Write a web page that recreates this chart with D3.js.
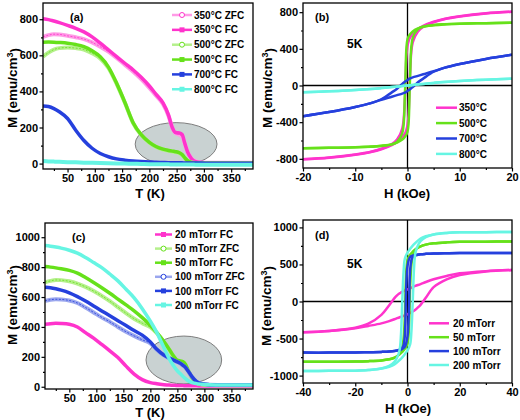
<!DOCTYPE html>
<html><head><meta charset="utf-8">
<script src="https://cdn.jsdelivr.net/npm/d3@7"></script>
<style>
body{margin:0;background:#fff;}
svg text{font-family:"Liberation Sans",Arial,sans-serif;font-weight:bold;fill:#000;}
</style></head><body>
<svg id="chart" width="520" height="420"></svg>
<script>
// ---------- data ----------
const tempGrid = [5, 15, 25, 35, 50, 65, 80, 95, 110, 125, 140, 155, 170, 185, 200, 212, 225, 235, 242, 248, 255, 260, 265, 270, 277, 285, 295, 310, 340, 390];
// panel (a): annealing temperature series (emu/cm3)
const a350ZFC = [702, 712, 717, 716, 708, 700, 690, 672, 648, 620, 585, 548, 510, 468, 420, 378, 330, 265, 200, 168, 160, 150, 110, 65, 30, 12, 6, 5, 5, 5];
const a350FC  = [803, 798, 790, 781, 766, 750, 730, 702, 667, 630, 593, 556, 520, 478, 430, 385, 336, 270, 200, 172, 170, 162, 112, 65, 28, 10, 6, 5, 5, 5];
const a500ZFC = [593, 615, 632, 640, 643, 640, 632, 612, 583, 530, 442, 338, 226, 158, 116, 93, 78, 71, 67, 64, 58, 48, 30, 15, 6, 3, 2, 2, 2, 2];
const a500FC  = [673, 674, 673, 671, 667, 660, 648, 625, 592, 535, 445, 340, 228, 160, 118, 95, 80, 73, 69, 66, 60, 50, 32, 16, 7, 3, 2, 2, 2, 2];
const a700FC  = [319, 316, 305, 287, 250, 185, 128, 85, 56, 38, 26, 19, 14, 11, 9, 7, 6, 5, 5, 4, 4, 4, 3, 3, 3, 3, 3, 2, 2, 2];
const a800FC  = [14, 12, 11, 10, 8, 7, 5, 4, 3, 2, 1, 0, -1, -2, -3, -3, -4, -4, -5, -5, -5, -5, -5, -5, -5, -6, -6, -6, -7, -7];
// panel (c): oxygen pressure series
const c20FC   = [418, 422, 424, 423, 418, 400, 362, 325, 283, 240, 195, 138, 85, 48, 28, 20, 14, 11, 10, 9, 8, 8, 7, 7, 6, 6, 5, 5, 5, 5];
const c50ZFC  = [699, 708, 714, 713, 705, 690, 668, 640, 608, 572, 532, 492, 455, 425, 398, 358, 300, 248, 208, 180, 170, 165, 148, 108, 60, 28, 15, 11, 10, 10];
const c50FC   = [804, 800, 795, 789, 778, 760, 730, 697, 662, 625, 586, 547, 508, 462, 410, 362, 302, 250, 210, 182, 172, 168, 150, 110, 62, 30, 16, 12, 10, 10];
const c100ZFC = [574, 582, 585, 584, 577, 560, 530, 497, 464, 434, 400, 368, 340, 314, 290, 248, 210, 190, 178, 168, 156, 143, 128, 103, 66, 35, 20, 14, 12, 12];
const c100FC  = [666, 662, 655, 646, 628, 603, 573, 540, 507, 475, 442, 409, 376, 345, 300, 250, 212, 192, 180, 170, 158, 145, 130, 105, 68, 36, 20, 14, 12, 12];
const c200FC  = [944, 940, 934, 927, 913, 893, 864, 831, 797, 754, 708, 652, 594, 522, 438, 362, 262, 187, 145, 115, 88, 70, 54, 40, 28, 21, 17, 14, 12, 11];

// panel (b): hysteresis loops at 5 K, field in kOe
const hBdown = [20, 15, 10, 7, 5, 3, 2, 1, 0.5, 0.2, 0, -0.2, -0.5, -1, -2, -3, -5, -7, -10, -15, -20];
const hBup   = [-20, -15, -10, -7, -5, -3, -2, -1, -0.5, -0.2, 0, 0.2, 0.5, 1, 2, 3, 5, 7, 10, 15, 20];
const b350down = [805, 788, 755, 725, 695, 650, 615, 565, 525, 480, 430, 320, -150, -470, -590, -640, -690, -722, -752, -785, -805];
const b350up   = [-805, -788, -755, -725, -695, -650, -615, -565, -525, -480, -430, -320, 150, 470, 590, 640, 690, 722, 752, 785, 805];
const b500down = [685, 680, 673, 666, 657, 642, 622, 590, 560, 535, 505, 420, -100, -520, -615, -642, -660, -668, -675, -680, -685];
const b500up   = [-685, -680, -673, -666, -657, -642, -622, -590, -560, -535, -505, -420, 100, 520, 615, 642, 660, 668, 675, 680, 685];
const b700down = [335, 290, 235, 192, 155, 122, 105, 88, 78, 68, 60, 52, 40, 18, -35, -75, -150, -192, -235, -290, -335];
const b700up   = [-335, -290, -235, -192, -155, -122, -105, -88, -78, -68, -60, -52, -40, -18, 35, 75, 150, 192, 235, 290, 335];
const b800down = [75, 64, 50, 38, 28, 17, 12, 6, 3, 1, 0, -1, -3, -6, -12, -17, -28, -38, -50, -64, -75];
const b800up   = [-75, -64, -50, -38, -28, -17, -12, -6, -3, -1, 0, 1, 3, 6, 12, 17, 28, 38, 50, 64, 75];

// panel (d)
const hDdown = [40, 30, 20, 15, 10, 7, 5, 3, 2, 1, 0, -1, -1.5, -2, -2.5, -3, -4, -5, -7, -10, -15, -20, -30, -40];
const hDup   = [-40, -30, -20, -15, -10, -7, -5, -3, -2, -1, 0, 1, 1.5, 2, 2.5, 3, 4, 5, 7, 10, 15, 20, 30, 40];
const d20down  = [425, 410, 380, 345, 300, 263, 235, 210, 195, 178, 165, 150, 142, 132, 122, 110, 82, 45, -50, -180, -300, -355, -398, -416];
const d20up    = [-416, -398, -362, -330, -295, -265, -240, -212, -200, -188, -175, -155, -145, -135, -125, -112, -80, -45, 50, 195, 300, 357, 405, 425];
const d50down  = [810, 808, 805, 798, 785, 768, 745, 702, 672, 632, 560, -200, -500, -620, -680, -708, -738, -758, -780, -795, -805, -810, -812, -812];
const d50up    = [-812, -812, -810, -805, -795, -780, -760, -712, -680, -640, -570, 200, 500, 615, 672, 700, 728, 745, 768, 785, 798, 805, 808, 810];
const d100down = [655, 655, 655, 652, 648, 643, 638, 628, 620, 600, 480, -450, -590, -625, -640, -650, -660, -668, -675, -680, -685, -688, -690, -690];
const d100up   = [-690, -690, -688, -685, -680, -675, -668, -655, -640, -610, -470, 420, 560, 600, 615, 622, 630, 637, 643, 648, 652, 655, 655, 655];
const d200down = [938, 936, 933, 925, 905, 880, 850, 790, 755, 710, 660, 580, 400, 0, -450, -650, -760, -815, -870, -905, -925, -933, -936, -938];
const d200up   = [-938, -936, -933, -925, -905, -880, -850, -790, -755, -710, -660, -580, -400, 0, 450, 650, 760, 815, 870, 905, 925, 933, 936, 938];

// ticks
const tTicks = [50, 100, 150, 200, 250, 300, 350];
const tMinor = [25, 75, 125, 175, 225, 275, 325, 375];
const aYTicks = [0, 200, 400, 600, 800];
const aYMinor = [100, 300, 500, 700];
const cYTicks = [0, 200, 400, 600, 800, 1000];
const cYMinor = [100, 300, 500, 700, 900];
const bXTicks = [-20, -10, 0, 10, 20];
const bXMinor = [-15, -5, 5, 15];
const bYTicks = [-800, -400, 0, 400, 800];
const bYMinor = [-600, -200, 200, 600];
const dXTicks = [-40, -20, 0, 20, 40];
const dXMinor = [-30, -10, 10, 30];
const dYTicks = [-1000, -500, 0, 500, 1000];
const dYMinor = [-750, -250, 250, 750];

// colours
const PINK = "#ff33cc", PINK_L = "#ff9be6";
const GREEN = "#66e11a", GREEN_L = "#b5f08c";
const BLUE = "#2540dd", BLUE_L = "#9aa6ee";
const CYAN = "#66f5e3";

// ---------- drawing ----------
const svg = d3.select("#chart");
const defs = svg.append("defs");
const fmt = d => String(d);

function panel(box, xd, yd, xt, xm, yt, ym) {
  const x = d3.scaleLinear().domain(xd).range([box.l, box.r]);
  const y = d3.scaleLinear().domain(yd).range([box.b, box.t]);
  const g = svg.append("g");
  const cid = "clip" + box.id;
  defs.append("clipPath").attr("id", cid).append("rect")
    .attr("x", box.l).attr("y", box.t).attr("width", box.r - box.l).attr("height", box.b - box.t);
  const plot = g.append("g").attr("clip-path", `url(#${cid})`);
  const axes = g.append("g");
  const styleAxis = sel => {
    sel.select(".domain").remove();
    sel.selectAll("line").attr("stroke", "#000").attr("stroke-width", 1.2);
    sel.selectAll("text").style("font-size", "11px").style("font-weight", "bold")
      .style("font-family", '"Liberation Sans",Arial,sans-serif').attr("fill", "#000");
  };
  axes.append("g").attr("transform", `translate(0,${box.b})`)
    .call(d3.axisBottom(x).tickValues(xt).tickFormat(fmt).tickSize(3.5).tickPadding(1.5)).call(styleAxis);
  axes.append("g").attr("transform", `translate(0,${box.b})`)
    .call(d3.axisBottom(x).tickValues(xm).tickSize(2).tickFormat("")).call(styleAxis);
  axes.append("g").attr("transform", `translate(${box.l},0)`)
    .call(d3.axisLeft(y).tickValues(yt).tickFormat(fmt).tickSize(3.5).tickPadding(1.5)).call(styleAxis);
  axes.append("g").attr("transform", `translate(${box.l},0)`)
    .call(d3.axisLeft(y).tickValues(ym).tickSize(2).tickFormat("")).call(styleAxis);
  return { x, y, plot, g, box };
}

function frame(p) {
  p.g.append("rect").attr("x", p.box.l).attr("y", p.box.t)
    .attr("width", p.box.r - p.box.l).attr("height", p.box.b - p.box.t)
    .attr("fill", "none").attr("stroke", "#000").attr("stroke-width", 1.3);
}

function tCurve(p, vals, color, width, light) {
  const line = d3.line().x((d, i) => p.x(tempGrid[i])).y(d => p.y(d)).curve(d3.curveMonotoneX);
  if (light) {
    p.plot.append("path").attr("d", line(vals)).attr("fill", "none")
      .attr("stroke", light).attr("stroke-width", width + 1);
    p.plot.append("path").attr("d", line(vals)).attr("fill", "none")
      .attr("stroke", color).attr("stroke-width", 1).attr("stroke-dasharray", "2,1.5").attr("opacity", 0.8);
  } else {
    p.plot.append("path").attr("d", line(vals)).attr("fill", "none")
      .attr("stroke", color).attr("stroke-width", width).attr("stroke-linejoin", "round");
  }
}

function loop(p, hd, md, hu, mu, color, width) {
  const line = d3.line().x(d => p.x(d[0])).y(d => p.y(d[1])).curve(d3.curveCatmullRom.alpha(0.5));
  [[hd, md], [hu, mu]].forEach(([h, m]) => {
    p.plot.append("path").attr("d", line(h.map((v, i) => [v, m[i]])))
      .attr("fill", "none").attr("stroke", color).attr("stroke-width", width).attr("stroke-linejoin", "round");
  });
}

function zeroLines(p) {
  p.plot.append("line").attr("x1", p.box.l).attr("x2", p.box.r).attr("y1", p.y(0)).attr("y2", p.y(0))
    .attr("stroke", "#000").attr("stroke-width", 1.3);
  p.plot.append("line").attr("x1", p.x(0)).attr("x2", p.x(0)).attr("y1", p.box.t).attr("y2", p.box.b)
    .attr("stroke", "#000").attr("stroke-width", 1.3);
}

function ellipse(p, cx, cy, rx, ry) {
  p.plot.append("ellipse").attr("cx", p.x(cx)).attr("cy", p.y(cy))
    .attr("rx", Math.abs(p.x(cx + rx) - p.x(cx))).attr("ry", Math.abs(p.y(cy + ry) - p.y(cy)))
    .attr("fill", "#c9d2d2").attr("stroke", "#7d7d7d").attr("stroke-width", 1);
}

function legend(p, x0, x1, tx, y0, dy, items) {
  items.forEach((it, i) => {
    const yy = y0 + i * dy;
    const lg = p.g.append("g");
    lg.append("line").attr("x1", x0).attr("x2", x1).attr("y1", yy).attr("y2", yy)
      .attr("stroke", it.light || it.color).attr("stroke-width", 2.5);
    const mx = (x0 + x1) / 2;
    if (it.marker === "circle") {
      lg.append("circle").attr("cx", mx).attr("cy", yy).attr("r", 2.5)
        .attr("fill", "#fff").attr("stroke", it.color).attr("stroke-width", 1);
    } else if (it.marker === "square") {
      lg.append("rect").attr("x", mx - 2.5).attr("y", yy - 2.5).attr("width", 5).attr("height", 5)
        .attr("fill", it.color);
    }
    lg.append("text").attr("x", tx).attr("y", yy).attr("dy", "0.36em")
      .style("font-size", "10px").text(it.label);
  });
}

function label(x, y, txt, size, anchor) {
  svg.append("text").attr("x", x).attr("y", y).attr("text-anchor", anchor || "start")
    .style("font-size", size + "px").text(txt);
}

function yTitle(cx, cy) {
  const t = svg.append("text").attr("transform", `translate(${cx},${cy}) rotate(-90)`)
    .attr("text-anchor", "middle").style("font-size", "13.5px");
  t.append("tspan").text("M (emu/cm");
  t.append("tspan").attr("dy", "-0.45em").style("font-size", "9px").text("3");
  t.append("tspan").attr("dy", "0.45em").text(")");
}

// ---- panel (a)
const pa = panel({ id: "a", l: 43, r: 253, t: 3, b: 169 }, [5, 390], [-30, 890], tTicks, tMinor, aYTicks, aYMinor);
ellipse(pa, 249, 108, 75, 119);
tCurve(pa, a350ZFC, PINK, 3, PINK_L);
tCurve(pa, a350FC, PINK, 3.5);
tCurve(pa, a500ZFC, GREEN, 3, GREEN_L);
tCurve(pa, a500FC, GREEN, 3.5);
tCurve(pa, a700FC, BLUE, 3.5);
tCurve(pa, a800FC, CYAN, 4);
frame(pa);
legend(pa, 172, 192, 194, 15, 14.85, [
  { label: "350°C ZFC", color: PINK, light: PINK_L, marker: "circle" },
  { label: "350°C FC", color: PINK, marker: "square" },
  { label: "500°C ZFC", color: GREEN, light: GREEN_L, marker: "circle" },
  { label: "500°C FC", color: GREEN, marker: "square" },
  { label: "700°C FC", color: BLUE, marker: "square" },
  { label: "800°C FC", color: CYAN, marker: "square" }
]);
label(70, 21, "(a)", 11);
label(150, 198, "T (K)", 13, "middle");
yTitle(17, 88);

// ---- panel (b)
const pb = panel({ id: "b", l: 303, r: 512, t: 3, b: 168 }, [-20, 20], [-900, 900], bXTicks, bXMinor, bYTicks, bYMinor);
zeroLines(pb);
loop(pb, hBdown, b350down, hBup, b350up, PINK, 2.5);
loop(pb, hBdown, b500down, hBup, b500up, GREEN, 2.5);
loop(pb, hBdown, b700down, hBup, b700up, BLUE, 2.5);
loop(pb, hBdown, b800down, hBup, b800up, CYAN, 2.5);
frame(pb);
legend(pb, 436, 457, 459, 107.7, 15.4, [
  { label: "350°C", color: PINK },
  { label: "500°C", color: GREEN },
  { label: "700°C", color: BLUE },
  { label: "800°C", color: CYAN }
]);
label(315, 21, "(b)", 11);
label(347, 48, "5K", 12);
label(407, 198, "H (kOe)", 13, "middle");
yTitle(272, 88);

// ---- panel (c)
const pc = panel({ id: "c", l: 45, r: 253, t: 223, b: 389 }, [5, 390], [-15, 1095], tTicks, tMinor, cYTicks, cYMinor);
ellipse(pc, 262, 179, 70, 160);
tCurve(pc, c20FC, PINK, 3.5);
tCurve(pc, c50ZFC, GREEN, 3, GREEN_L);
tCurve(pc, c50FC, GREEN, 3.5);
tCurve(pc, c100ZFC, BLUE, 3, BLUE_L);
tCurve(pc, c100FC, BLUE, 3.5);
tCurve(pc, c200FC, CYAN, 3.5);
frame(pc);
legend(pc, 155, 172, 175, 234.5, 14.1, [
  { label: "20 mTorr FC", color: PINK, marker: "square" },
  { label: "50 mTorr ZFC", color: GREEN, light: GREEN_L, marker: "circle" },
  { label: "50 mTorr FC", color: GREEN, marker: "square" },
  { label: "100 mTorr ZFC", color: BLUE, light: BLUE_L, marker: "circle" },
  { label: "100 mTorr FC", color: BLUE, marker: "square" },
  { label: "200 mTorr FC", color: CYAN, marker: "square" }
]);
label(72, 241, "(c)", 11);
label(150, 417, "T (K)", 13, "middle");
yTitle(17, 305);

// ---- panel (d)
const pd = panel({ id: "d", l: 303, r: 512, t: 220, b: 383 }, [-40, 40], [-1100, 1100], dXTicks, dXMinor, dYTicks, dYMinor);
zeroLines(pd);
loop(pd, hDdown, d20down, hDup, d20up, PINK, 2.5);
loop(pd, hDdown, d50down, hDup, d50up, GREEN, 2.5);
loop(pd, hDdown, d100down, hDup, d100up, BLUE, 2.5);
loop(pd, hDdown, d200down, hDup, d200up, CYAN, 2.5);
frame(pd);
legend(pd, 429, 449, 453, 323.3, 13.9, [
  { label: "20 mTorr", color: PINK },
  { label: "50 mTorr", color: GREEN },
  { label: "100 mTorr", color: BLUE },
  { label: "200 mTorr", color: CYAN }
]);
label(315, 239, "(d)", 11);
label(347, 268, "5K", 12);
label(408, 413, "H (kOe)", 13, "middle");
yTitle(271, 306);
</script>
</body></html>
